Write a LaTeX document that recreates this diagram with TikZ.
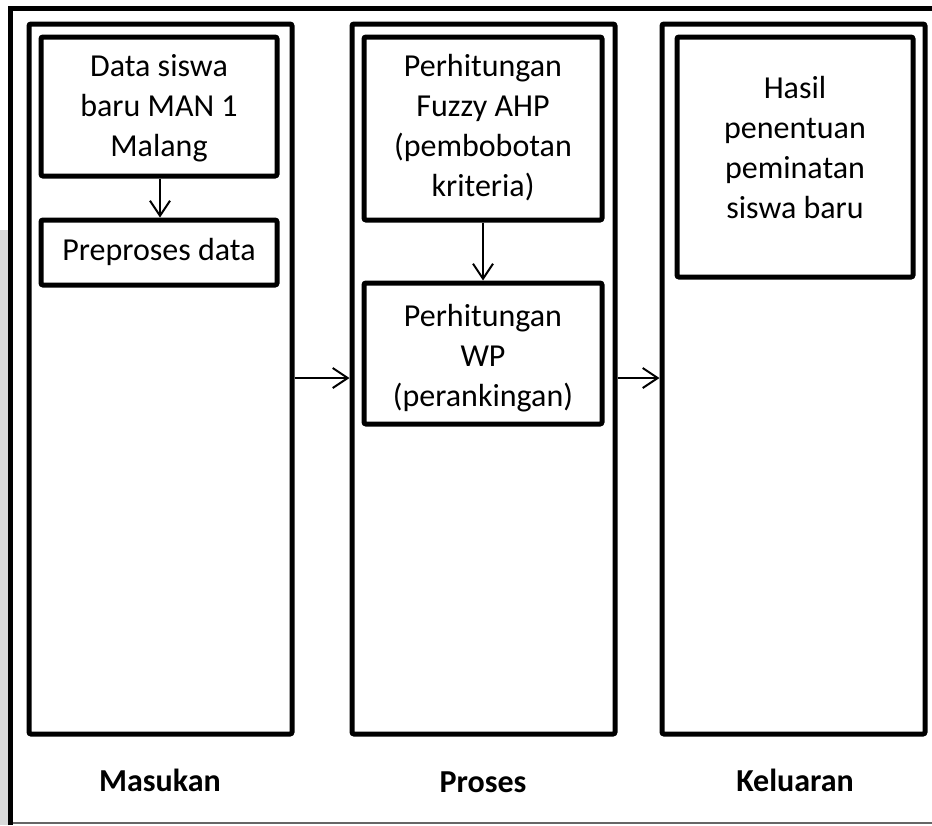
\documentclass[tikz,border=0pt]{standalone}
\usepackage{fontspec}
\setmainfont{Carlito}
\usetikzlibrary{arrows.meta}
\definecolor{stripgray}{HTML}{D9D9D9}
\definecolor{edgegray}{HTML}{666666}
\begin{document}
\begin{tikzpicture}[x=1pt,y=-1pt,
  column/.style={draw,line width=5pt,rounded corners=2pt,minimum width=263pt,minimum height=710pt,inner sep=0pt},
  stepbox/.style={draw,line width=5pt,rounded corners=2pt,inner sep=0pt},
  txt/.style={align=center,font=\fontsize{32}{40}\selectfont,inner sep=0pt},
  caption/.style={font=\fontsize{32}{38}\selectfont\bfseries,inner sep=0pt},
  flow/.style={line width=2pt,-{Straight Barb[length=15pt,width=20pt,line width=2pt]}}]
  \useasboundingbox (0,0) rectangle (932,825);
  % page frame
  \fill[stripgray] (0,230) rectangle (8,825);
  \draw[edgegray,line width=2pt] (10,823) -- (932,823);
  \draw[line width=5pt] (10,825) -- (10,8) -- (932,8);

  % three stage columns
  \node[column] (masukan) at (160.5,379) {};
  \node[column] (proses) at (483.5,379) {};
  \node[column] (keluaran) at (793.5,379) {};

  % input stage
  \node[stepbox,minimum width=236pt,minimum height=139pt] (data) at (159,106.5) {};
  \node[txt] (datat) at (159,108) {Data siswa\\baru MAN 1\\Malang};
  \node[stepbox,minimum width=236pt,minimum height=65pt] (prep) at (159,252.5) {};
  \node[txt] (prept) at (159,252) {Preproses data};

  % process stage
  \node[stepbox,minimum width=238pt,minimum height=183pt] (fahp) at (483,128.5) {};
  \node[txt] (fahpt) at (483,128) {Perhitungan\\Fuzzy AHP\\(pembobotan\\kriteria)};
  \node[stepbox,minimum width=238pt,minimum height=141pt] (wp) at (483,353.5) {};
  \node[txt] (wpt) at (483,358) {Perhitungan\\WP\\(perankingan)};

  % output stage
  \node[stepbox,minimum width=236pt,minimum height=240pt] (hasil) at (795,157) {};
  \node[txt] (hasilt) at (795,148) {Hasil\\penentuan\\peminatan\\siswa baru};

  % stage captions
  \node[caption] (capm) at (160,780) {Masukan};
  \node[caption] (capp) at (483,782) {Proses};
  \node[caption] (capk) at (795,780) {Keluaran};

  % connectors
  \draw[flow] (data.south -| 160,0) -- (prep.north -| 160,0);
  \draw[flow] (fahp.south) -- (wp.north);
  \draw[flow] (masukan.east |- 0,378) -- (proses.west |- 0,378);
  \draw[flow] (proses.east |- 0,378) -- (keluaran.west |- 0,378);
\end{tikzpicture}
\end{document}
